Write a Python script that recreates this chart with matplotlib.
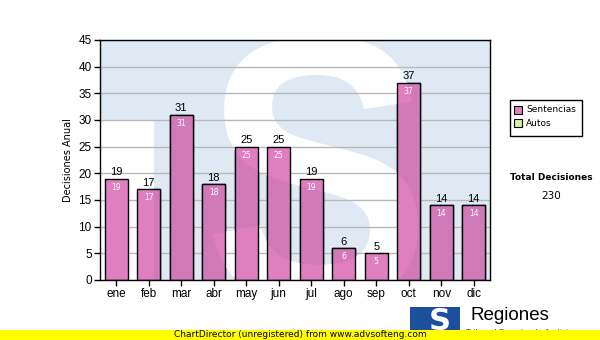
import matplotlib
matplotlib.use("Agg")
import matplotlib.pyplot as plt
import numpy as np
from matplotlib.patches import Rectangle, PathPatch
from matplotlib.path import Path
from matplotlib.textpath import TextPath
from matplotlib.font_manager import FontProperties
from matplotlib.transforms import Affine2D

# ── Datos ────────────────────────────────────────────────────────────────────
meses = ["ene", "feb", "mar", "abr", "may", "jun",
         "jul", "ago", "sep", "oct", "nov", "dic"]
sentencias = [19, 17, 31, 18, 25, 25, 19, 6, 5, 37, 14, 14]
autos = [0, 0, 0, 0, 0, 0, 0, 0, 0, 0, 0, 0]
series = ["Sentencias", "Autos"]
y_ticks = list(range(0, 50, 5))

C_BAR = "#e07fc0"
C_BAR_WM = "#d27ab9"   # barra sobre la marca de agua
C_AUTOS = "#d8f0a0"
C_WM = "#dfe9f3"

W, H = 600, 340
fig = plt.figure(figsize=(6, 3.4), dpi=100)
fig.patch.set_facecolor("white")

# coordenadas del área de trazado (px)
X0, X1, Y0, Y1 = 100, 490, 40, 280
pos = [X0 / W, 1 - Y1 / H, (X1 - X0) / W, (Y1 - Y0) / H]


def rect_path(x0, y0, x1, y1, ccw=True):
    v = [(x0, y0), (x1, y0), (x1, y1), (x0, y1)]
    if not ccw:
        v = v[::-1]
    return Path(v + [v[0]], [Path.MOVETO, Path.LINETO, Path.LINETO, Path.LINETO, Path.CLOSEPOLY])


def signed_area(path):
    tot = 0.0
    for poly in path.to_polygons():
        xs, ys = poly[:, 0], poly[:, 1]
        tot += 0.5 * np.sum(xs * np.roll(ys, -1) - np.roll(xs, -1) * ys)
    return tot


ax = fig.add_axes(pos)

# ── Marca de agua "S" (px, y hacia abajo) ────────────────────────────────────
px2ax = Affine2D().translate(-X0, -Y1).scale(1 / (X1 - X0), -1 / (Y1 - Y0))
tp = TextPath((0, 0), "S", size=1, prop=FontProperties(family="Liberation Sans", weight="bold"))
ext = tp.get_extents()
sx0, sx1, sy0, sy1 = 213, 418, 36, 306
tr = (Affine2D().translate(-ext.x0, -ext.y0)
      .scale((sx1 - sx0) / ext.width, -(sy1 - sy0) / ext.height)
      .translate(sx0, sy1))
s_path = tr.transform_path(tp)
s_ccw = signed_area(s_path) > 0
outer = rect_path(X0, Y0, X1, Y1, ccw=not s_ccw)
hole = rect_path(X0, 120, 154, Y1, ccw=s_ccw)
wm = Path.make_compound_path(outer, s_path, hole)
wm_patch = PathPatch(wm, facecolor=C_WM, edgecolor="none",
                     transform=px2ax + ax.transAxes, zorder=0.5)
ax.add_patch(wm_patch)

# ── Barras ───────────────────────────────────────────────────────────────────
x = list(range(len(meses)))
ax.bar(x, sentencias, width=0.7, color=C_BAR, edgecolor="black", linewidth=1, zorder=3)
dark = ax.bar(x, sentencias, width=0.7, color=C_BAR_WM, edgecolor="black",
              linewidth=1, zorder=3.1)
for r in dark:
    r.set_clip_path(wm_patch)
for xi, v in zip(x, sentencias):
    ax.annotate(str(v), (xi, v), xytext=(0, 1), textcoords="offset points",
                ha="center", va="bottom", fontsize=8, color="black",
                family="Liberation Sans", zorder=6)
    ax.annotate(str(v), (xi, v), xytext=(0, -3), textcoords="offset points",
                ha="center", va="top", fontsize=5.5, color="white",
                family="DejaVu Sans", zorder=6)

ax.set_xlim(-0.5, len(meses) - 0.5)
ax.set_ylim(0, 45)
ax.set_yticks(y_ticks)
ax.set_xticks(x)
ax.set_xticklabels(meses)
ax.yaxis.grid(True, color="#b8b8b8", linewidth=1, zorder=1)
ax.set_axisbelow(True)
for s in ax.spines.values():
    s.set_color("black")
    s.set_linewidth(1)
    s.set_zorder(7)
ax.tick_params(axis="both", direction="out", length=4, width=1, pad=2,
               labelsize=8.5, colors="black")
for lbl in ax.get_xticklabels() + ax.get_yticklabels():
    lbl.set_family("Liberation Sans")
ax.set_ylabel("Decisiones Anual", fontsize=7, family="DejaVu Sans", labelpad=4)

# ── Leyenda y total ──────────────────────────────────────────────────────────
fig.patches.append(Rectangle((510 / W, 1 - 136 / H), 72 / W, 36 / H,
                             transform=fig.transFigure, facecolor="white",
                             edgecolor="black", linewidth=1))
for i, (name, col) in enumerate(zip(series, [C_BAR, C_AUTOS])):
    yy = 110 + i * 13
    fig.patches.append(Rectangle((514 / W, 1 - (yy + 4) / H), 8 / W, 8 / H,
                                 transform=fig.transFigure, facecolor=col,
                                 edgecolor="black", linewidth=0.8))
    fig.text(526 / W, 1 - yy / H, name, fontsize=6.5, family="DejaVu Sans",
             va="center", ha="left")

total = sum(sentencias) + sum(autos)
fig.text(551 / W, 1 - 178 / H, "Total Decisiones", fontsize=6.5, fontweight="bold",
         family="DejaVu Sans", ha="center", va="center")
fig.text(551 / W, 1 - 196 / H, str(total), fontsize=7.5, family="DejaVu Sans",
         ha="center", va="center")

# ── Logo y pie ───────────────────────────────────────────────────────────────
fig.patches.append(Rectangle((410 / W, 0), 50 / W, 33 / H, transform=fig.transFigure,
                             facecolor="#1c4f9c", edgecolor="none", zorder=2))
fig.text(440 / W, 1 - 322 / H, "S", fontsize=22, fontweight="bold", color="white",
         family="DejaVu Sans", ha="center", va="center", zorder=3)
fig.text(470 / W, 1 - 315 / H, "Regiones", fontsize=13.5, family="Liberation Sans",
         ha="left", va="center", zorder=3)
fig.text(466 / W, 1 - 333 / H, "Tribunal Superior de Justicia", fontsize=6,
         family="Liberation Sans", ha="left", va="center", color="#333333", zorder=3)
fig.patches.append(Rectangle((0, 0), 1, 10 / H, transform=fig.transFigure,
                             facecolor="#ffff00", edgecolor="none", zorder=5))
fig.text(300 / W, 1 - 334.5 / H, "ChartDirector (unregistered) from www.advsofteng.com",
         fontsize=6.5, family="DejaVu Sans", ha="center", va="center", zorder=6)

fig.savefig("out.png", dpi=100, facecolor="white")
